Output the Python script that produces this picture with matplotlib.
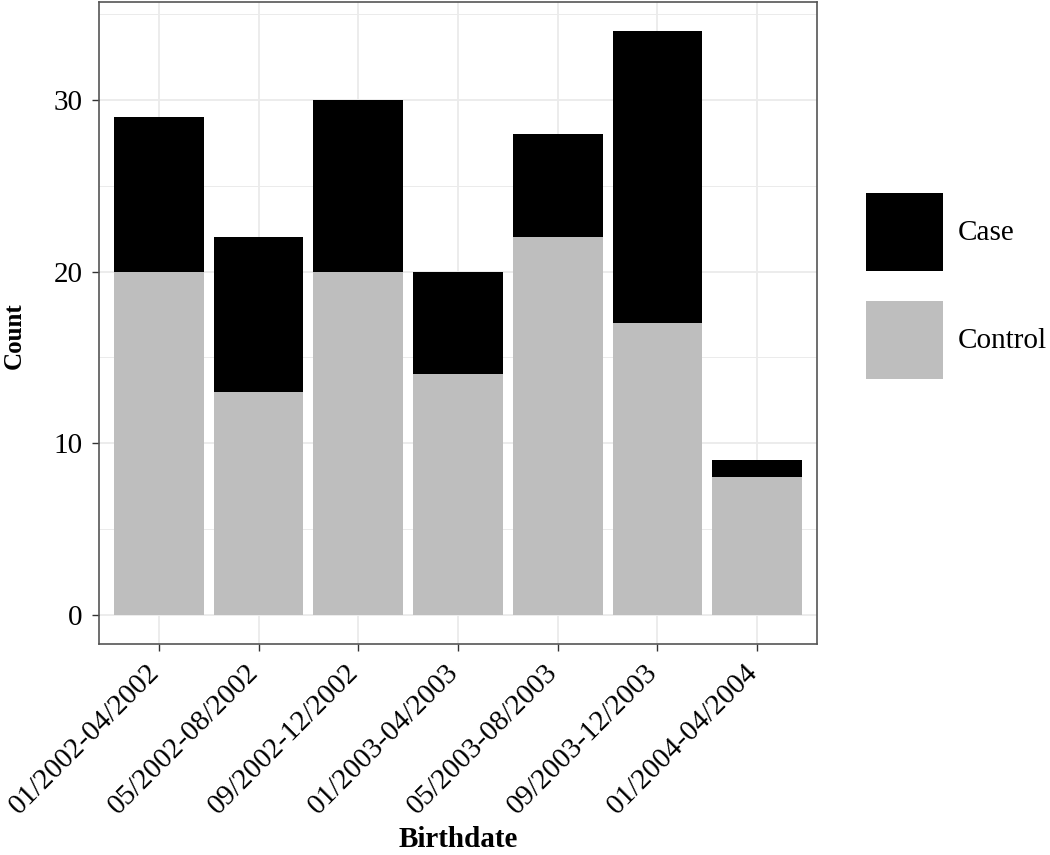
import matplotlib
matplotlib.use('Agg')
import matplotlib.pyplot as plt
import matplotlib.transforms as mtransforms
import numpy as np
from matplotlib.patches import Patch

periods = ['01/2002-04/2002', '05/2002-08/2002', '09/2002-12/2002',
           '01/2003-04/2003', '05/2003-08/2003', '09/2003-12/2003',
           '01/2004-04/2004']
control = [20, 13, 20, 14, 22, 17, 8]
case = [9, 9, 10, 6, 6, 17, 1]
groups = ['Case', 'Control']

plt.rcParams['font.family'] = ['Liberation Serif', 'DejaVu Serif']

fig = plt.figure(figsize=(10.5, 8.55), dpi=100)
ax = fig.add_axes([99 / 1050, 1 - 644 / 855, (817 - 99) / 1050, 642 / 855])

x = np.arange(len(periods))
ax.bar(x, control, width=0.9, color='#bebebe', zorder=3)
ax.bar(x, case, width=0.9, bottom=control, color='black', zorder=3)

total = np.array(control) + np.array(case)
ymax = total.max()
ax.set_ylim(-0.05 * ymax, ymax * 1.05)
ax.set_xlim(-0.6, len(periods) - 0.4)

ax.set_yticks([0, 10, 20, 30])
ax.set_yticks([5, 15, 25, 35], minor=True)
ax.set_xticks(x)
ax.set_xticklabels(periods, rotation=45, ha='right', rotation_mode='anchor')
ax.tick_params(axis='both', labelsize=21, color='#333333', length=5, width=1)
ax.tick_params(axis='y', which='minor', length=0)
ax.tick_params(axis='y', pad=7)
ax.tick_params(axis='x', pad=6)

# nudge rotated labels so their ends sit left of the ticks, like ggplot
shift = mtransforms.ScaledTranslation(-13 / 100, 0, fig.dpi_scale_trans)
for lab in ax.get_xticklabels():
    lab.set_transform(lab.get_transform() + shift)

ax.grid(which='major', color='#ebebeb', linewidth=1.3, zorder=0)
ax.grid(which='minor', axis='y', color='#ebebeb', linewidth=0.7, zorder=0)
for s in ax.spines.values():
    s.set_color('#555555')
    s.set_linewidth(1.2)

ax.set_xlabel('Birthdate', fontsize=21, fontweight='bold', labelpad=5)
ax.set_ylabel('Count', fontsize=18, fontweight='bold')
ax.yaxis.set_label_coords(-0.102, 0.481)

handles = [Patch(facecolor='black'), Patch(facecolor='#bebebe')]
fig.legend(handles, groups, loc='upper left', bbox_to_anchor=(866 / 1050, 1 - 193 / 855),
           frameon=False, fontsize=21, handlelength=2.64, handleheight=3.73,
           labelspacing=1.03, handletextpad=0.5, borderpad=0, borderaxespad=0)

fig.savefig('out.png', dpi=100)
